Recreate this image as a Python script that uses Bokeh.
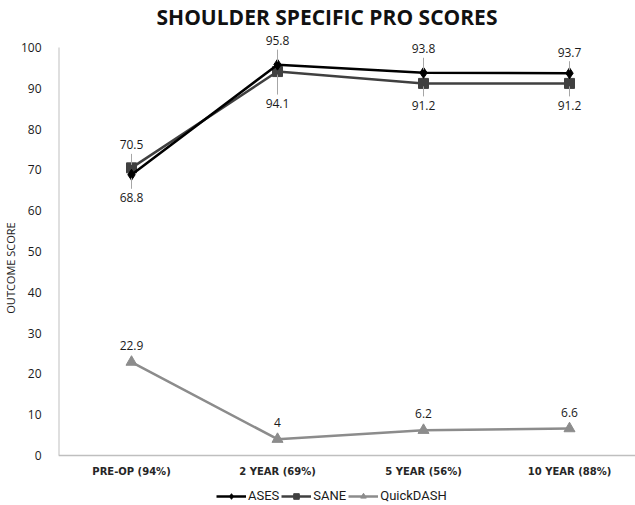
from bokeh.plotting import figure
from bokeh.models import ColumnDataSource, Range1d, FixedTicker, Legend, LegendItem, Title
from bokeh.core.properties import value
from bokeh.embed import file_html
from bokeh.resources import INLINE

# ---- data ----
categories = ["PRE-OP (94%)", "2 YEAR (69%)", "5 YEAR (56%)", "10 YEAR (88%)"]
ases = [68.8, 95.8, 93.8, 93.7]
sane = [70.5, 94.1, 91.2, 91.2]
quickdash = [22.9, 4, 6.2, 6.6]
ases_labels = ["68.8", "95.8", "93.8", "93.7"]
sane_labels = ["70.5", "94.1", "91.2", "91.2"]
qd_labels = ["22.9", "4", "6.2", "6.6"]
y_ticks = list(range(0, 101, 10))

# ---- layout / style ----
W, H = 635, 505
LEFT, TOP = 57, 30
ZERO_PX, HUNDRED_PX = 455, 47     # canvas pixel rows of values 0 and 100
frame_w = W - LEFT
frame_h = H - TOP
px_per_unit = (ZERO_PX - HUNDRED_PX) / 100.0
y_start = -(H - ZERO_PX) / px_per_unit
y_end = (ZERO_PX - TOP) / px_per_unit
x_end = frame_w / 146.0 - 0.5
xs = list(range(len(categories)))

p = figure(width=W, height=H, frame_width=frame_w, frame_height=frame_h,
           output_backend="svg", toolbar_location=None,
           x_range=Range1d(-0.5, x_end), y_range=Range1d(y_start, y_end),
           min_border_left=LEFT, min_border_top=TOP, min_border_bottom=0,
           min_border_right=0, background_fill_color="white",
           border_fill_color="white")
p.outline_line_color = None
p.xgrid.visible = False
p.ygrid.visible = False
p.xaxis.visible = False

p.title.text = "SHOULDER SPECIFIC PRO SCORES"
p.title.align = "left"
p.title.text_font = "Open Sans"
p.title.text_font_style = "bold"
p.title.text_font_size = "21px"
p.title.text_color = "#111111"
p.title.offset = 98
p.title.standoff = 0

p.yaxis.ticker = FixedTicker(ticks=y_ticks)
p.yaxis.major_tick_line_color = None
p.yaxis.minor_tick_line_color = None
p.yaxis.axis_line_color = None
p.yaxis.major_label_text_font = "Open Sans"
p.yaxis.major_label_text_font_size = "12px"
p.yaxis.major_label_text_color = "#1a1a1a"
p.yaxis.major_label_standoff = 11

ylab = Title(text="OUTCOME SCORE", align="center", offset=16,
             text_font="Open Sans", text_font_style="normal",
             text_font_size="11px", text_color="#1a1a1a", standoff=0)
p.add_layout(ylab, "left")

# axis lines (0..100 on y, full width on x)
p.segment(x0=[-0.5], y0=[0], x1=[-0.5], y1=[y_ticks[-1]], line_color="#bfbfbf", line_width=2)
p.segment(x0=[-0.5], y0=[0], x1=[x_end], y1=[0], line_color="#bfbfbf", line_width=1.5)

# category labels under the x axis line
cat_src = ColumnDataSource(dict(x=xs, y=[0] * len(xs), text=categories))
p.text(x="x", y="y", text="text", y_offset=16, source=cat_src,
       text_font=value("DejaVu Sans"), text_font_style="bold", text_font_size="10px",
       text_color="#262626", text_align="center", text_baseline="middle")

# series
c_ases, c_sane, c_qd = "#000000", "#404040", "#8c8c8c"
r_qd_l = p.line(xs, quickdash, line_color=c_qd, line_width=2.5)
r_qd_m = p.scatter(xs, quickdash, marker="triangle", size=11, fill_color=c_qd, line_color=c_qd)
r_sane_l = p.line(xs, sane, line_color=c_sane, line_width=2.5)
r_sane_m = p.scatter(xs, sane, marker="square", size=10, fill_color=c_sane, line_color=c_sane)
r_ases_l = p.line(xs, ases, line_color=c_ases, line_width=2.5)
r_ases_m = p.scatter(xs, ases, marker="diamond", size=11, fill_color=c_ases, line_color=c_ases)

# data labels with leader lines (offsets in screen px, negative = above)
ases_off = [23, -24, -24, -21]
sane_off = [-23, 32, 22, 22]
qd_off = [-17, -17, -17, -16]

def add_labels(vals, labels, offs, leader):
    src = ColumnDataSource(dict(x=xs, y=vals, text=labels, yo=offs))
    p.text(x="x", y="y", text="text", y_offset="yo", source=src,
           text_font=value("Open Sans"), text_font_size="12px",
           text_color="#1a1a1a", text_align="center", text_baseline="middle")
    if leader:
        y0, y1 = [], []
        for v, o in zip(vals, offs):
            s = -1 if o < 0 else 1
            a = 3
            b = abs(o) - 9
            y0.append(v - s * a / px_per_unit)
            y1.append(v - s * b / px_per_unit)
        p.segment(x0=xs, y0=y0, x1=xs, y1=y1, line_color="#a6a6a6", line_width=1)

add_labels(ases, ases_labels, ases_off, True)
add_labels(sane, sane_labels, sane_off, True)
add_labels(quickdash, qd_labels, qd_off, False)

legend = Legend(items=[
    LegendItem(label="ASES", renderers=[r_ases_l, r_ases_m]),
    LegendItem(label="SANE", renderers=[r_sane_l, r_sane_m]),
    LegendItem(label="QuickDASH", renderers=[r_qd_l, r_qd_m]),
], orientation="horizontal", location=(158, 2))
legend.label_text_font = "Roboto"
legend.label_text_font_size = "13px"
legend.label_text_color = "#1a1a1a"
legend.border_line_color = None
legend.background_fill_alpha = 0
legend.glyph_width = 30
legend.glyph_height = 14
legend.spacing = 2
legend.padding = 0
legend.margin = 0
legend.label_standoff = 2
legend.label_height = 14
legend.label_width = 10
p.add_layout(legend, "center")

open("out.html", "w").write(file_html(p, INLINE))
